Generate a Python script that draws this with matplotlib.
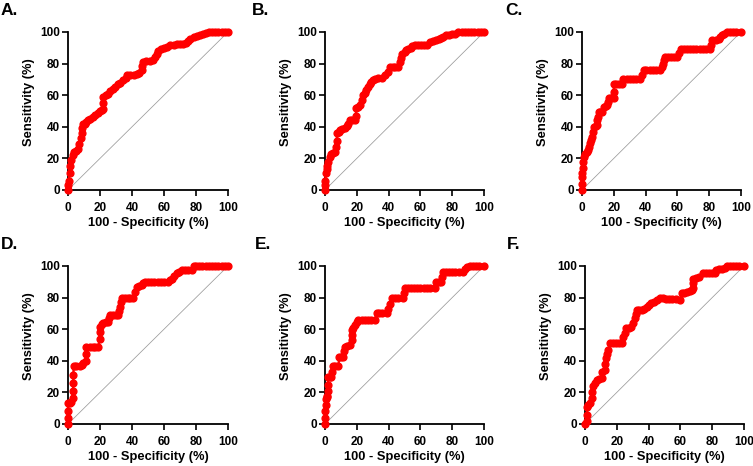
import matplotlib
matplotlib.use("Agg")
import matplotlib.pyplot as plt

plt.rcParams['font.family'] = ['Liberation Sans', 'DejaVu Sans']
plt.rcParams['font.weight'] = 'bold'

panel_labels = ["A.", "B.", "C.", "D.", "E.", "F."]
x_ticks = [0, 20, 40, 60, 80, 100]
y_ticks = [0, 20, 40, 60, 80, 100]
x_label = "100 - Specificity (%)"
y_label = "Sensitivity (%)"

a_fpr = [0,0,0.5,1,1.5,2,3,4,5,6,7,8,8.5,9,9.5,10.5,11.5,12.5,14,15.5,17,18.5,20,21,22,22,22,23.5,25,26.5,28,29.5,31,32.5,34.5,36,37,39,41,43,44.5,46,46.5,47,49,51,53,54.5,55.5,56.5,58,60,62,64,66,68,70,72,74,75,76.5,78.5,80.5,82.5,84.5,86,88,90,92,94,96,98,100]
a_tpr = [0,3,6,10.5,15,19,22,24,24.5,26,29,33,36,39,41.5,42,43,44.5,45,46,47.5,49,50,50.5,51,55,59,60,61,62.5,64,65.5,67,68,69.5,71,73,73,73,73.5,74,76,78.5,81,81.5,81.5,82,84,86,88,89,90,90.5,91.5,91.5,92.5,92.5,92.5,93,94.5,95.5,97,97.5,98,99,99.5,100,100,100,100,100,100,100]

b_fpr = [0,0,0.3,0.6,1,1.5,2,3,4,5,6,7,7.3,7.7,8.5,9.5,11,12.5,14,14.6,15.7,17,18.8,19.5,19.5,21,22,23,24,25,26,27,28,28.7,30,31.4,33.5,35.6,37.7,39.7,40.8,42.5,44,46,47,48,48.7,50,51,52.5,54,55,56.5,58.5,60.5,62.5,64,66,68,70,71.5,73,74.5,76,78,80,81.6,83.7,86,88,90,92,94,96,98,100]
b_tpr = [0,3,6,10.5,13,15,18,21,23,23.5,24,27,31,36,37,38,38.5,39,40.5,41.5,44,44,44,47,51.6,52.5,53.7,57,60,61.5,63,65,67,68.4,69.5,70.5,71,71,72.6,74.7,78,78,78,78,81,83.5,86.3,87.5,88.4,89,90,91,92,92,92,92,92,93.7,94,94.7,95.5,96.4,97,98,98,98.5,99,100,100,100,100,100,100,100,100,100]

c_fpr = [0,0,0,0.3,0.5,0.8,1,2,3,4,4.5,5,5.7,6.3,6.8,7.3,8.5,9.4,9.7,10,10.5,11.5,12.6,13.6,15,15.7,16.3,16.8,18.5,20,20,20,21.5,23,25,26,28,30,32,34,36.7,37.8,38.8,40.5,42.5,44.5,46.5,49,50,51,51.5,52,54,56,58,60,61,62,64,66,68,70,72,74,76,78,80.7,81.2,81.8,84,86,87,88,89.5,91,93,95,97,100]
c_tpr = [0,4,8,11,14,18,21,23,24,25.5,27,29.5,31.5,33.7,37,40,40.5,41,44,46,49.5,49.5,49.5,52.6,53,53.7,56,58,58,58,62,67,67,67,67,70.5,70.5,70.5,70.5,70.5,70.5,73,75.8,75.8,75.8,75.8,75.8,75.8,78,80,82,84,84,84,84,84,87,89.5,89.5,89.5,89.5,89.5,89.5,89.5,89.5,89.5,89.5,92,94.7,95.2,95.8,97,98,99,100,100,100,100,100]

d_fpr = [0,0,0,0,1,2,3,3.2,3.3,3.4,3.5,5,7.3,8.5,9.4,11,11.2,11.5,13.5,15.5,17,18.8,20,20,20,21,22,23.5,25,25.5,26,28,30,31.4,32,32.4,33,33.5,35.5,37.5,39,40.8,42,43,44.5,46,47,48,50,52,54,56,58,60,62.8,64,65,66.5,68,69.5,71,73,75,77.4,78.5,80,82,84,86,88,90,92,94,96,98,100]
d_tpr = [0,4,8,13,13.5,14,16.4,21,26,31,36.4,36.4,36.4,37.5,38.5,39.6,44,49,49,49,49,49,54,58,61.7,63,63.8,64.3,64.8,67,69,69,69,69,71.5,74,77,79.6,79.6,79.6,79.6,79.6,83.8,87,87.5,88,89,90,90,90,90,90,90,90,90,91,92,93.7,95.4,96.5,97.5,97.5,97.5,97.5,100,100,100,100,100,100,100,100,100,100,100,100]

e_fpr = [0,0.2,0.3,0.4,0.5,1,1.5,1.7,1.8,2,3,4,4.4,4.8,6.5,8.4,9,10,11.5,12,12.5,14,15.7,16.7,16.7,16.7,17.8,18.8,20,21,23,25,27,29,31.4,32.4,34,36,38.7,39.7,40.8,42,44,46,49,49.5,50,52,54,56,58,60,62,64,66,69,70,71.5,73,73.5,74,76,78,80,82,84,86.8,88,89,91,93,95,97,100]
e_tpr = [0,4,8,12,16,17,17.5,21,25,30,30,30,33,36.4,36.4,36.4,42.7,42.7,42.7,46,49,49.5,50,53,56.5,59.6,61,62.7,64.5,66,66,66,66,66,66,70,70,70,70,73,76,79.6,79.6,79.6,79.6,83,86,86,86,86,86,86,86,86,86,86,90,90,90,93,96.4,96.4,96.4,96.4,96.4,96.4,96.4,98,99.6,100,100,100,100,100]

f_fpr = [0,1,1.2,1.5,2.2,3,4.2,4.7,5.2,6,7.3,9,10.5,11,12.5,12.8,13,13.8,14.6,15.7,17.5,19.5,21.5,23,24,25,26,27.5,29,30,31.4,32,32.4,34,35.6,37,38.7,40.2,41.8,43.5,45,47,49,51,53,55,57,60,60.7,62.5,64,66,67,68,68,68,70,72,74,76,78,80,81.6,82.6,84.5,86,87.9,89,91,93,95,97,100]
f_tpr = [0,1.7,6,11,12.2,13.3,16.4,20,23.8,26,28,28.5,29,33,34,38,41.7,44.5,47,51,51,51,51,51,55,57.5,60.6,61,61.7,63.8,67,69.5,72,72,72,73,74,75.2,76.4,77.5,78.5,79.6,79.6,79.3,79,79,78.8,78.5,82.7,83,83.5,84,85,86,89,92,92.5,93,95.4,95.4,95.4,95.4,95.4,97.5,98,98,98.5,100,100,100,100,100,100]

curves = [(a_fpr, a_tpr), (b_fpr, b_tpr), (c_fpr, c_tpr),
          (d_fpr, d_tpr), (e_fpr, e_tpr), (f_fpr, f_tpr)]

W, H = 753, 466
fig = plt.figure(figsize=(W / 100, H / 100), dpi=100)

# axes boxes in pixels: (left, right, top, bottom)
boxes = [(68, 228, 32, 190), (325, 484, 32, 190), (582, 741, 32, 190),
         (68, 228, 266, 424), (325, 484, 266, 424), (585, 744, 266, 424)]
letter_pos = [(1, 3), (252, 3), (505, 3), (1, 237), (255, 237), (507, 237)]

for i, ((fx, ty), (l, r, t, b)) in enumerate(zip(curves, boxes)):
    w, h = r - l, b - t
    ax = fig.add_axes([l / W, 1 - b / H, w / W, h / H])
    ax.plot([0, 100], [0, 100], color='#9a9a9a', lw=0.55, zorder=1)
    ax.plot(fx, ty, color='#ff0000', lw=1.7, marker='o', ms=4.9,
            mec='#ff0000', mfc='#ff0000', clip_on=False, zorder=3)
    ax.set_xlim(0, 100)
    ax.set_ylim(0, 100)
    ax.set_xticks(x_ticks)
    ax.set_yticks(y_ticks)
    ax.tick_params(direction='out', length=4, width=1.2, labelsize=8.5,
                   colors='black')
    ax.tick_params(axis='x', pad=4.5)
    ax.tick_params(axis='y', pad=2)
    for lab in ax.get_xticklabels() + ax.get_yticklabels():
        lab.set_fontweight('bold')
    for s in ['top', 'right']:
        ax.spines[s].set_visible(False)
    for s in ['left', 'bottom']:
        ax.spines[s].set_linewidth(1.3)
    ax.set_xlabel(x_label, fontsize=9.3, fontweight='bold')
    ax.set_ylabel(y_label, fontsize=9.3, fontweight='bold')
    ax.xaxis.set_label_coords(0.5, -27 / h)
    ax.yaxis.set_label_coords(-33 / w, 0.557)
    ax.set_facecolor('none')
    fig.text(letter_pos[i][0] / W, 1 - letter_pos[i][1] / H, panel_labels[i],
             fontsize=12.5, fontweight='bold', ha='left', va='top')

fig.savefig('out.png', dpi=100, facecolor='white')
